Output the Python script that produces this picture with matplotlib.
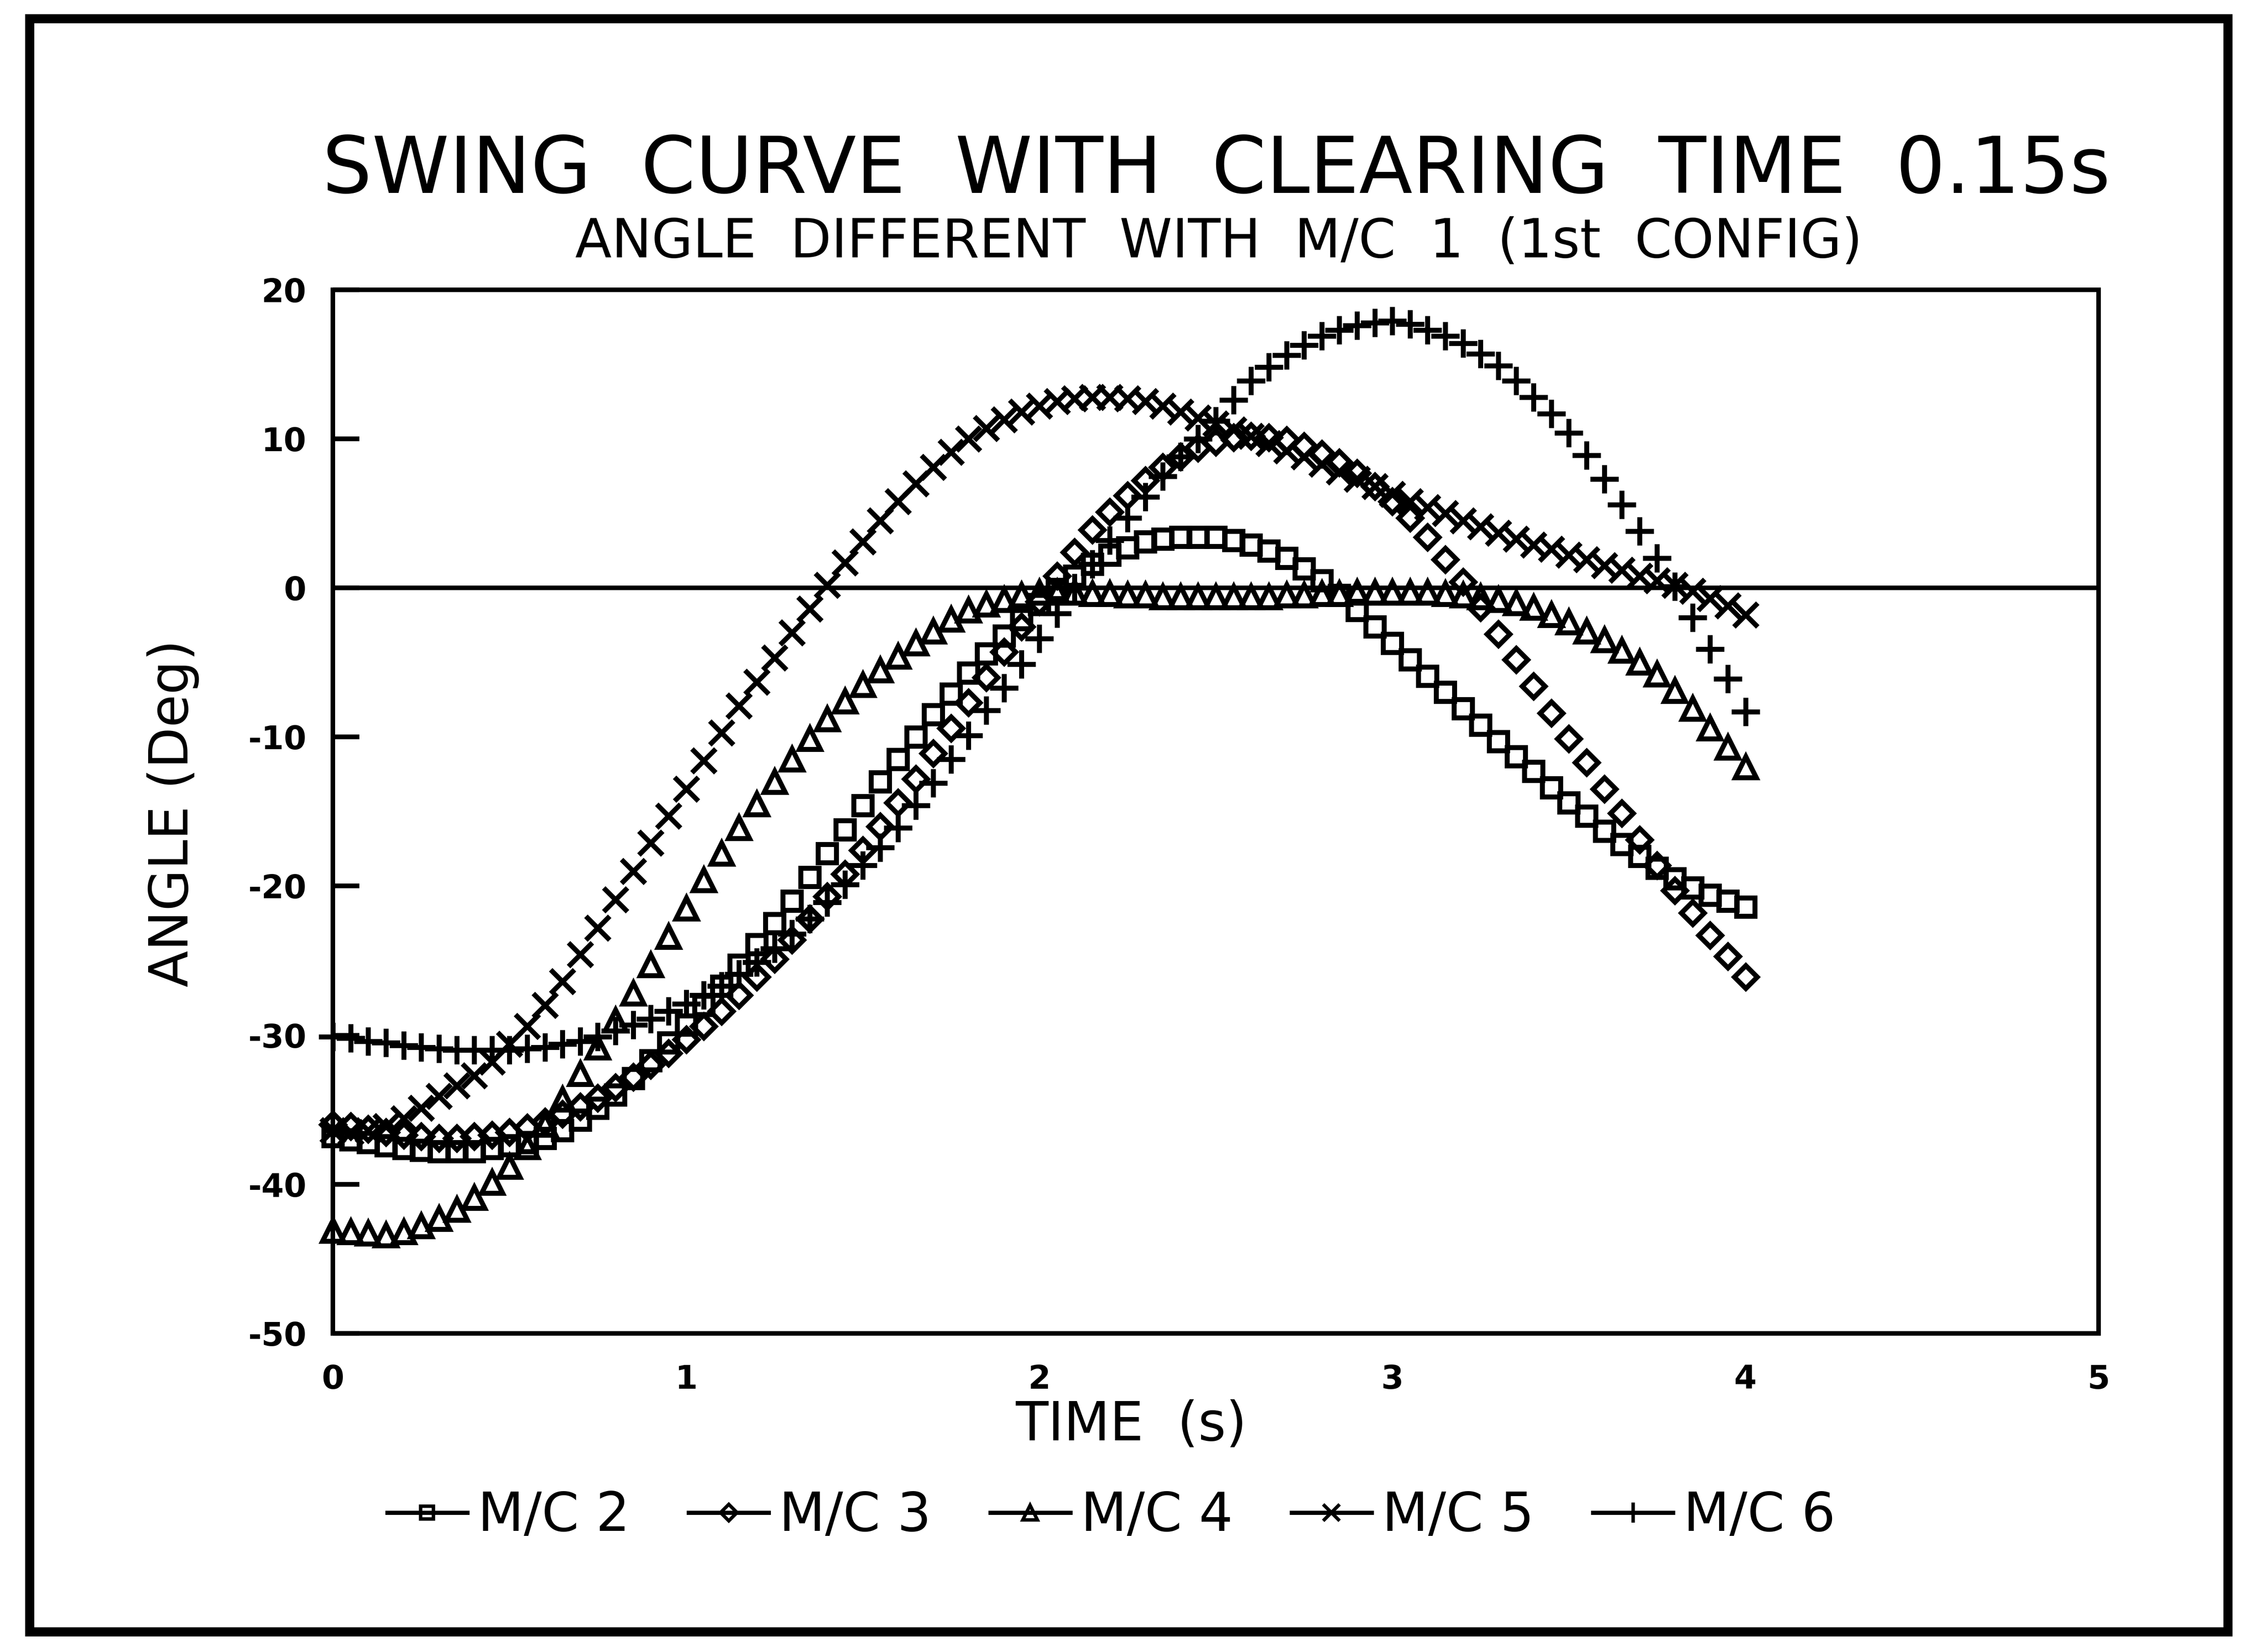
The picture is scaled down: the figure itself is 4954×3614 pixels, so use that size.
import numpy as np
import matplotlib
matplotlib.use("Agg")
import matplotlib.pyplot as plt
from matplotlib.lines import Line2D
from matplotlib.patches import Rectangle

# sample times (s), one sample every 0.05 s
time_s = np.round(np.arange(81) * 0.05, 2)

# rotor angle difference relative to M/C 1 (deg)
mc2 = [-36.8, -37.0, -37.2, -37.4, -37.6, -37.7, -37.8, -37.8, -37.8, -37.6,
       -37.4, -37.2, -36.9, -36.4, -35.7, -34.9, -34.0, -32.9, -31.7, -30.5,
       -29.3, -28.0, -26.7, -25.3, -23.9, -22.5, -21.0, -19.4, -17.8, -16.2,
       -14.6, -13.0, -11.5, -10.0, -8.5, -7.1, -5.7, -4.4, -3.2, -2.1,
       -1.1, -0.1, 0.8, 1.6, 2.2, 2.7, 3.1, 3.3, 3.4, 3.4,
       3.4, 3.2, 2.9, 2.5, 2.0, 1.3, 0.5, -0.5, -1.5, -2.6,
       -3.7, -4.8, -5.9, -7.0, -8.1, -9.2, -10.3, -11.3, -12.3, -13.4,
       -14.4, -15.3, -16.3, -17.2, -18.0, -18.8, -19.5, -20.1, -20.6, -21.0,
       -21.4]
mc3 = [-36.0, -36.1, -36.3, -36.5, -36.7, -36.8, -36.9, -36.9, -36.8, -36.7,
       -36.5, -36.2, -35.8, -35.3, -34.8, -34.2, -33.5, -32.8, -32.0, -31.2,
       -30.3, -29.4, -28.4, -27.3, -26.1, -24.9, -23.6, -22.2, -20.7, -19.2,
       -17.6, -16.0, -14.4, -12.8, -11.1, -9.4, -7.7, -6.0, -4.3, -2.6,
       -0.9, 0.8, 2.4, 3.9, 5.1, 6.2, 7.2, 8.1, 8.8, 9.4,
       9.8, 10.1, 10.2, 10.1, 9.9, 9.5, 9.0, 8.4, 7.7, 6.8,
       5.8, 4.7, 3.4, 1.9, 0.4, -1.3, -3.1, -4.8, -6.6, -8.4,
       -10.1, -11.7, -13.5, -15.1, -16.9, -18.6, -20.3, -21.8, -23.3, -24.7,
       -26.1]
mc4 = [-43.1, -43.2, -43.3, -43.4, -43.2, -42.8, -42.3, -41.7, -40.9, -39.9,
       -38.8, -37.5, -36.0, -34.3, -32.6, -30.8, -29.0, -27.2, -25.3, -23.4,
       -21.5, -19.6, -17.8, -16.1, -14.5, -13.0, -11.5, -10.1, -8.8, -7.6,
       -6.5, -5.5, -4.6, -3.7, -2.9, -2.1, -1.5, -1.1, -0.8, -0.5,
       -0.3, -0.3, -0.3, -0.4, -0.4, -0.5, -0.5, -0.6, -0.6, -0.6,
       -0.6, -0.6, -0.6, -0.6, -0.5, -0.5, -0.4, -0.4, -0.3, -0.3,
       -0.3, -0.3, -0.3, -0.4, -0.5, -0.6, -0.8, -1.0, -1.3, -1.8,
       -2.3, -2.9, -3.5, -4.2, -5.0, -5.8, -6.9, -8.1, -9.4, -10.7,
       -12.0]
mc5 = [-36.4, -36.5, -36.4, -36.1, -35.6, -34.9, -34.1, -33.4, -32.7, -31.8,
       -30.6, -29.4, -28.0, -26.4, -24.6, -22.8, -20.9, -19.0, -17.1, -15.3,
       -13.5, -11.6, -9.7, -7.9, -6.3, -4.7, -3.0, -1.4, 0.2, 1.7,
       3.1, 4.5, 5.8, 7.0, 8.1, 9.1, 10.0, 10.7, 11.3, 11.8,
       12.2, 12.5, 12.7, 12.8, 12.8, 12.7, 12.5, 12.2, 11.8, 11.4,
       11.0, 10.6, 10.2, 9.7, 9.2, 8.8, 8.3, 7.8, 7.3, 6.8,
       6.3, 5.8, 5.4, 5.0, 4.5, 4.1, 3.7, 3.3, 2.9, 2.6,
       2.2, 1.9, 1.5, 1.2, 0.8, 0.5, 0.2, -0.2, -0.7, -1.2,
       -1.8]
mc6 = [-30.1, -30.2, -30.4, -30.5, -30.7, -30.8, -30.9, -31.0, -31.0, -31.0,
       -31.0, -30.9, -30.8, -30.6, -30.4, -30.1, -29.7, -29.3, -28.9, -28.4,
       -27.9, -27.3, -26.7, -25.9, -25.1, -24.2, -23.2, -22.2, -21.1, -19.9,
       -18.6, -17.4, -16.1, -14.6, -13.1, -11.5, -9.9, -8.2, -6.7, -5.1,
       -3.4, -1.7, 0.0, 1.6, 3.2, 4.7, 6.1, 7.5, 8.8, 10.0,
       11.2, 12.6, 13.9, 14.8, 15.6, 16.3, 16.9, 17.3, 17.6, 17.8,
       17.9, 17.7, 17.3, 16.9, 16.4, 15.7, 14.9, 13.9, 12.8, 11.7,
       10.4, 8.9, 7.3, 5.6, 3.8, 2.0, 0.1, -2.0, -4.1, -6.1,
       -8.3]

labels = ["M/C 2", "M/C 3", "M/C 4", "M/C 5", "M/C 6"]
markers = ["s", "D", "^", "x", "+"]
sizes = [9.5, 8.5, 11, 12.5, 15]

y_ticks = [-50, -40, -30, -20, -10, 0, 10, 20]
x_ticks = [0, 1, 2, 3, 4, 5]

fig = plt.figure(figsize=(4954 / 300, 3614 / 300), dpi=300)
ax = fig.add_axes([0.147, 0.1929, 0.7795, 0.6317])

for vals, mk, ms in zip([mc2, mc3, mc4, mc5, mc6], markers, sizes):
    ax.plot(time_s, vals, linestyle="none", marker=mk, ms=ms, mfc="none",
            mec="black", mew=2.6, clip_on=False, zorder=3)

ax.axhline(0, color="black", lw=2.4, zorder=2)

ax.set_xlim(0, 5)
ax.set_ylim(-50, 20)
ax.set_xticks(x_ticks)
ax.set_xticklabels([str(v) for v in x_ticks])
ax.set_yticks(y_ticks)
ax.set_yticklabels([str(v) for v in y_ticks])
ax.tick_params(axis="y", direction="in", length=14, width=2.5, pad=14,
               labelsize=17, left=True, right=False)
ax.tick_params(axis="x", length=0, pad=16, labelsize=17)
for lbl in ax.get_xticklabels() + ax.get_yticklabels():
    lbl.set_fontweight("bold")
for sp in ax.spines.values():
    sp.set_linewidth(2.4)

fig.text(0.537, 0.8832, "SWING  CURVE  WITH  CLEARING  TIME  0.15s",
         fontsize=41, ha="center", va="baseline")
fig.text(0.538, 0.8442, "ANGLE  DIFFERENT  WITH  M/C  1  (1st  CONFIG)",
         fontsize=28, ha="center", va="baseline")
fig.text(0.0765, 0.5077, "ANGLE (Deg)", fontsize=28, rotation=90,
         ha="center", va="center")
fig.text(0.4994, 0.1372, "TIME  (s)", fontsize=28, ha="center", va="center")

handles = [Line2D([], [], color="black", lw=2.2, marker=mk, ms=ms * 0.7,
                  mfc="none", mec="black", mew=1.8)
           for mk, ms in zip(markers, sizes)]
fig.legend(handles, labels, loc="center", bbox_to_anchor=(0.4907, 0.0822),
           ncol=5, frameon=False, fontsize=28, handlelength=1.5,
           handletextpad=0.2, columnspacing=1.1)

# border round the whole sheet
fig.add_artist(Rectangle((0.0131, 0.0122), 0.9706, 0.9765,
                         transform=fig.transFigure, fill=False,
                         lw=4.8, edgecolor="black"))

fig.savefig("out.png", dpi=300)
